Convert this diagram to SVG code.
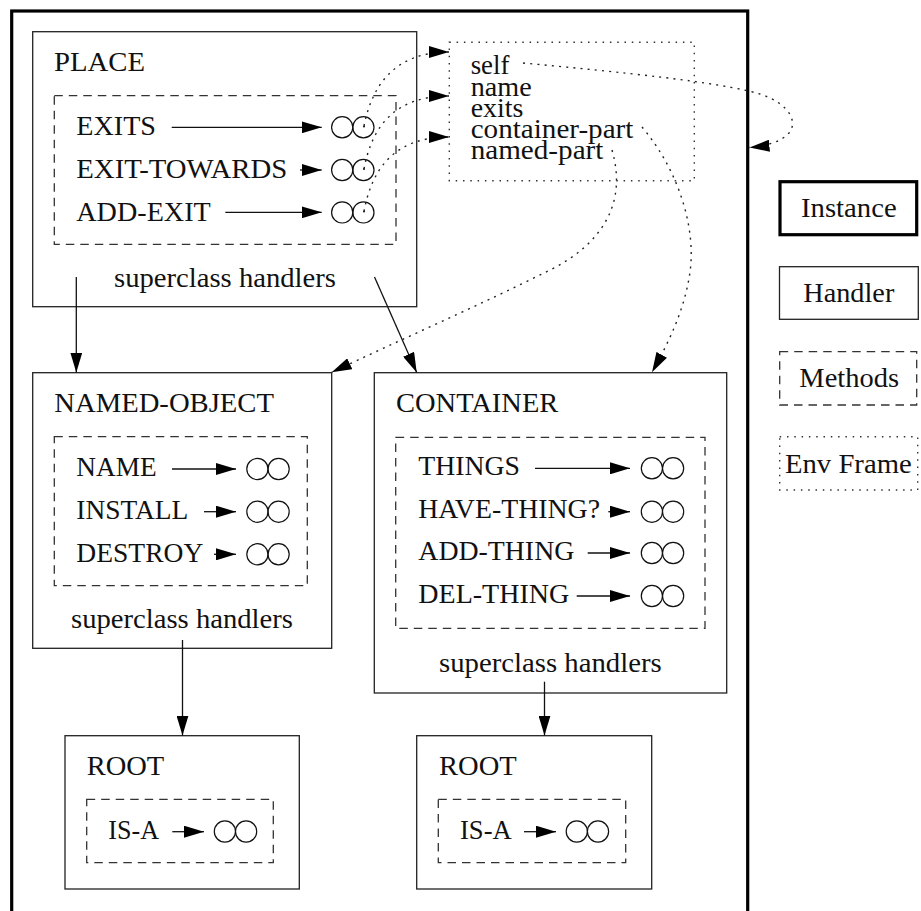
<svg xmlns="http://www.w3.org/2000/svg" width="921" height="911" viewBox="0 0 921 911">
<style>
  .t { font-family: "Liberation Serif", "Times New Roman", serif; font-size: 27px; fill: #111; }
  .box { fill: none; stroke: #222; stroke-width: 1.3; }
  .inst { fill: none; stroke: #000; stroke-width: 3.2; }
  .meth { fill: none; stroke: #333; stroke-width: 1.3; stroke-dasharray: 8.5 6; }
  .env { fill: none; stroke: #333; stroke-width: 1.4; stroke-dasharray: 1.5 5.8; }
  .ring { fill: none; stroke: #111; stroke-width: 1.2; }
  .dot { fill: #111; }
  .arr { fill: none; stroke: #111; stroke-width: 1.3; marker-end: url(#ah); }
  .link { fill: none; stroke: #222; stroke-width: 1.4; stroke-dasharray: 2 5.2; marker-end: url(#ah); }
</style>
<defs>
  <marker id="ah" markerUnits="userSpaceOnUse" markerWidth="20" markerHeight="12" viewBox="0 0 20 12" refX="20" refY="6" orient="auto">
    <path d="M0,0 L20,6 L0,12 Z" fill="#000" stroke="none"/>
  </marker>
  <g id="pair">
    <circle cx="-10.6" cy="0" r="10.6" class="ring"/>
    <circle cx="10.6" cy="0" r="10.6" class="ring"/>
  </g>
</defs>

<g id="instance-frame">
  <rect x="11.7" y="11" width="736" height="912" class="inst"/>
</g>

<g id="place">
  <rect x="32.7" y="31.7" width="384" height="275" class="box"/>
  <text x="54" y="71" class="t" textLength="91" lengthAdjust="spacingAndGlyphs">PLACE</text>
  <rect x="54.3" y="95.7" width="341.7" height="148.6" class="meth"/>
  <text x="76.3" y="135" class="t" textLength="79.7" lengthAdjust="spacingAndGlyphs">EXITS</text>
  <text x="76.3" y="178.3" class="t" textLength="211" lengthAdjust="spacingAndGlyphs">EXIT-TOWARDS</text>
  <text x="76.3" y="220.7" class="t" textLength="134.4" lengthAdjust="spacingAndGlyphs">ADD-EXIT</text>
  <line x1="171.7" y1="127.3" x2="321.7" y2="127.3" class="arr"/>
  <line x1="300" y1="170" x2="321.7" y2="170" class="arr"/>
  <line x1="225.3" y1="212.3" x2="321.7" y2="212.3" class="arr"/>
  <use href="#pair" x="352.8" y="127.3"/>
  <use href="#pair" x="352.8" y="170"/>
  <use href="#pair" x="352.8" y="212.4"/>
  <circle cx="364" cy="126.5" r="1" class="dot"/>
  <circle cx="364" cy="169" r="1" class="dot"/>
  <circle cx="364" cy="211.5" r="1" class="dot"/>
  <text x="114" y="287.3" class="t" textLength="222" lengthAdjust="spacingAndGlyphs">superclass handlers</text>
</g>

<g id="env-frame">
  <rect x="449.3" y="42.3" width="245" height="138.4" class="env"/>
  <text x="470.7" y="74.3" class="t" textLength="38.7" lengthAdjust="spacingAndGlyphs">self</text>
  <text x="470.7" y="96" class="t" textLength="61" lengthAdjust="spacingAndGlyphs">name</text>
  <text x="470.7" y="116.7" class="t" textLength="52.7" lengthAdjust="spacingAndGlyphs">exits</text>
  <text x="470.7" y="138.3" class="t" textLength="162.7" lengthAdjust="spacingAndGlyphs">container-part</text>
  <text x="470.7" y="159" class="t" textLength="132.7" lengthAdjust="spacingAndGlyphs">named-part</text>
</g>

<g id="named-object">
  <rect x="32.7" y="372.7" width="299" height="275.6" class="box"/>
  <text x="54.3" y="411.7" class="t" textLength="219.7" lengthAdjust="spacingAndGlyphs">NAMED-OBJECT</text>
  <rect x="54.3" y="436.7" width="253" height="149" class="meth"/>
  <text x="76.3" y="476" class="t" textLength="80.3" lengthAdjust="spacingAndGlyphs">NAME</text>
  <text x="76.3" y="519.3" class="t" textLength="112" lengthAdjust="spacingAndGlyphs">INSTALL</text>
  <text x="76.3" y="561.7" class="t" textLength="127" lengthAdjust="spacingAndGlyphs">DESTROY</text>
  <line x1="172" y1="469" x2="236" y2="469" class="arr"/>
  <line x1="204" y1="511.7" x2="236" y2="511.7" class="arr"/>
  <line x1="214" y1="554.3" x2="236" y2="554.3" class="arr"/>
  <use href="#pair" x="268" y="469"/>
  <use href="#pair" x="268" y="511.7"/>
  <use href="#pair" x="268" y="554.3"/>
  <text x="71" y="628.3" class="t" textLength="222" lengthAdjust="spacingAndGlyphs">superclass handlers</text>
</g>

<g id="container">
  <rect x="374.3" y="372.7" width="352.4" height="320.3" class="box"/>
  <text x="396" y="411.7" class="t" textLength="162.3" lengthAdjust="spacingAndGlyphs">CONTAINER</text>
  <rect x="395.7" y="437.3" width="309.3" height="191" class="meth"/>
  <text x="418.3" y="475" class="t" textLength="101.7" lengthAdjust="spacingAndGlyphs">THINGS</text>
  <text x="418.3" y="518.3" class="t" textLength="181.7" lengthAdjust="spacingAndGlyphs">HAVE-THING?</text>
  <text x="418.3" y="560" class="t" textLength="156" lengthAdjust="spacingAndGlyphs">ADD-THING</text>
  <text x="418.3" y="603.3" class="t" textLength="151" lengthAdjust="spacingAndGlyphs">DEL-THING</text>
  <line x1="535" y1="468.3" x2="630" y2="468.3" class="arr"/>
  <line x1="608.3" y1="511.7" x2="630" y2="511.7" class="arr"/>
  <line x1="587.7" y1="553" x2="630" y2="553" class="arr"/>
  <line x1="576.7" y1="596" x2="630" y2="596" class="arr"/>
  <use href="#pair" x="662.5" y="468.3"/>
  <use href="#pair" x="662.5" y="511.7"/>
  <use href="#pair" x="662.5" y="553"/>
  <use href="#pair" x="662.5" y="596"/>
  <text x="439" y="671.7" class="t" textLength="222.7" lengthAdjust="spacingAndGlyphs">superclass handlers</text>
</g>

<g id="root-1">
  <rect x="65" y="735.7" width="234.3" height="153.3" class="box"/>
  <text x="86.7" y="775" class="t" textLength="77.6" lengthAdjust="spacingAndGlyphs">ROOT</text>
  <rect x="86.7" y="799.3" width="186.6" height="63.4" class="meth"/>
  <text x="108.3" y="839.3" class="t" textLength="50.7" lengthAdjust="spacingAndGlyphs">IS-A</text>
  <line x1="172.3" y1="831.7" x2="204" y2="831.7" class="arr"/>
  <use href="#pair" x="235.5" y="831.5"/>
</g>

<g id="root-2">
  <rect x="416.7" y="735.7" width="235" height="153.3" class="box"/>
  <text x="439" y="775" class="t" textLength="77.7" lengthAdjust="spacingAndGlyphs">ROOT</text>
  <rect x="438.3" y="799.3" width="187.4" height="63.4" class="meth"/>
  <text x="460" y="839.3" class="t" textLength="51.7" lengthAdjust="spacingAndGlyphs">IS-A</text>
  <line x1="524" y1="831.7" x2="556" y2="831.7" class="arr"/>
  <use href="#pair" x="587.4" y="831.5"/>
</g>

<g id="connectors">
  <line x1="76.3" y1="277" x2="76.3" y2="372.5" class="arr"/>
  <line x1="374.5" y1="277" x2="416.7" y2="372.5" class="arr"/>
  <line x1="182.5" y1="640" x2="182.5" y2="735.5" class="arr"/>
  <line x1="544.5" y1="681.7" x2="544.5" y2="735.5" class="arr"/>
  <path d="M364,126 C372,85 395,52 449,52" class="link"/>
  <path d="M364,169 C372,126 395,96 449,96" class="link"/>
  <path d="M364,211.5 C372,168 395,137 449,137" class="link"/>
  <path d="M523,63 C620,72 720,82 760,94 C790,104 798,122 789,133 C781,142 766,146 749.5,147.5" class="link"/>
  <path d="M642,127 C680,172 696,230 690,272 C685,308 670,340 652,372.3" class="link"/>
  <path d="M612,150 C628,205 600,245 550,270 C480,305 400,340 331.7,372.3" class="link"/>
</g>

<g id="legend-instance">
  <rect x="780" y="181.7" width="136.7" height="53" class="inst"/>
  <text x="801" y="216.7" class="t" textLength="95.7" lengthAdjust="spacingAndGlyphs">Instance</text>
</g>
<g id="legend-handler">
  <rect x="779.5" y="266.7" width="138.8" height="52.6" class="box"/>
  <text x="803.3" y="301.7" class="t" textLength="91" lengthAdjust="spacingAndGlyphs">Handler</text>
</g>
<g id="legend-methods">
  <rect x="779.7" y="351.7" width="137" height="53.3" class="meth"/>
  <text x="799.3" y="386.7" class="t" textLength="99.7" lengthAdjust="spacingAndGlyphs">Methods</text>
</g>
<g id="legend-env">
  <rect x="779.7" y="436.7" width="138" height="53.3" class="env"/>
  <text x="785" y="473.3" class="t" textLength="126.7" lengthAdjust="spacingAndGlyphs">Env Frame</text>
</g>
</svg>
